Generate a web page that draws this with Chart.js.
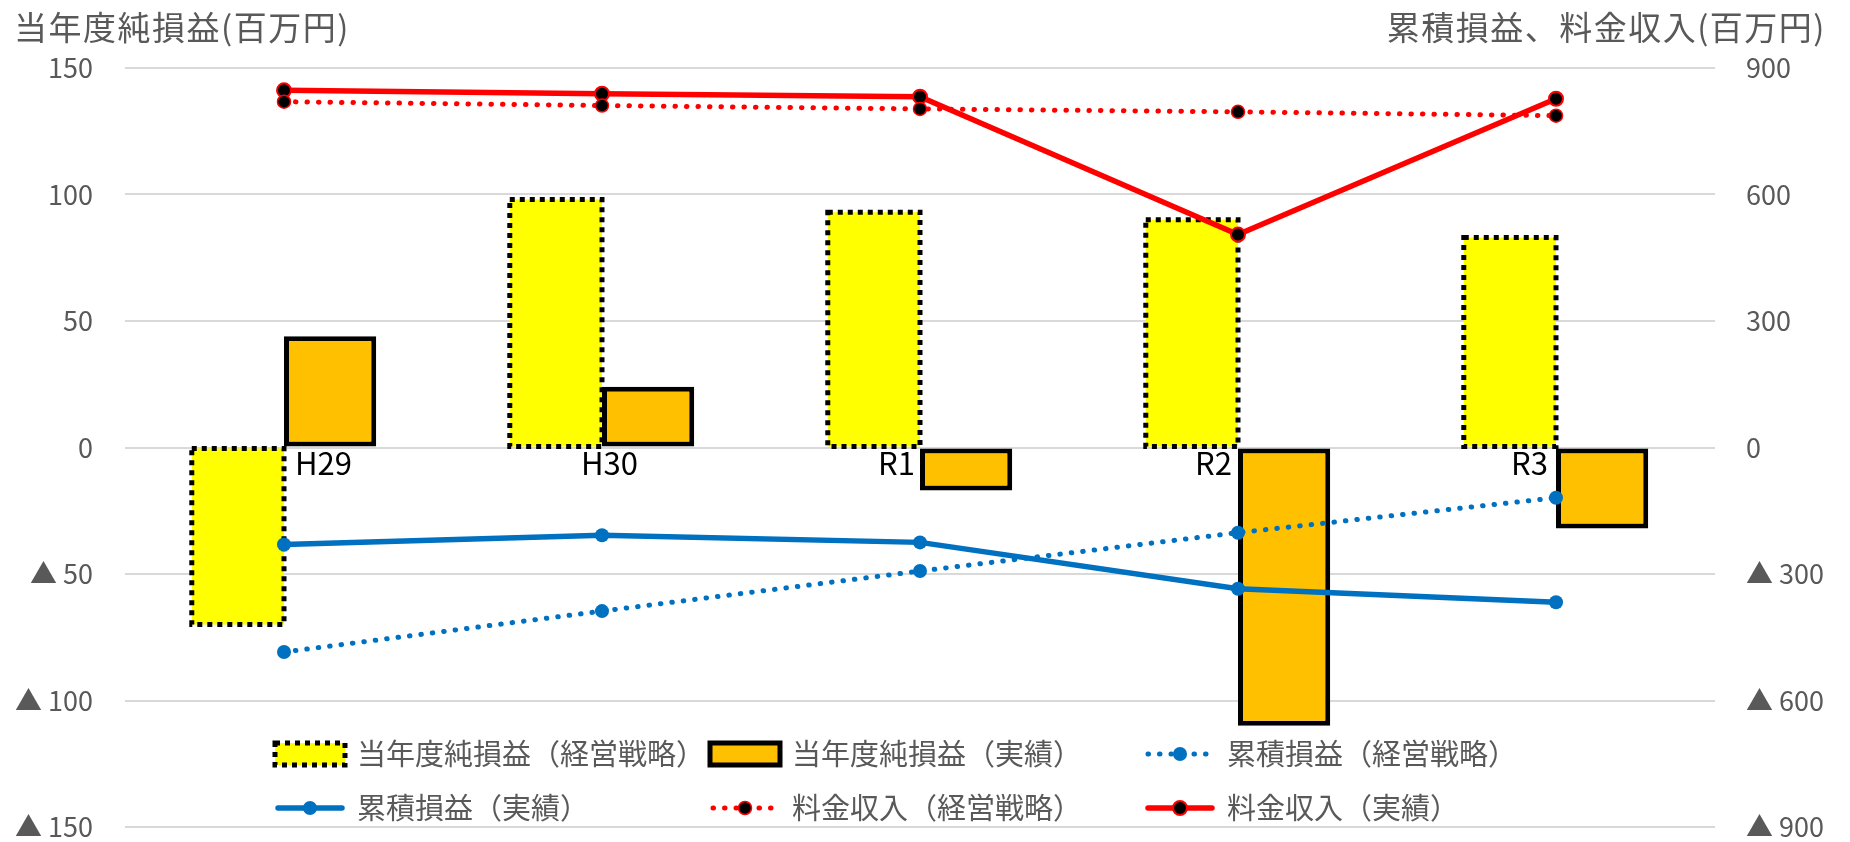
<!DOCTYPE html>
<html lang="ja">
<head>
<meta charset="utf-8">
<title>当年度純損益・累積損益・料金収入</title>
<script src="https://cdn.jsdelivr.net/npm/chart.js@4.4.1/dist/chart.umd.min.js"></script>
<style>
    html, body { margin: 0; padding: 0; background: #ffffff; }
    #wrap { position: relative; width: 1850px; height: 842px; }
</style>
</head>
<body>
<div id="wrap"><canvas id="profitChart"></canvas></div>
<script>
// 年度
var categories = ['H29', 'H30', 'R1', 'R2', 'R3'];

// 当年度純損益（左軸・百万円）
var netPlan = [-70, 98, 93, 90, 83];
var netActual = [44, 24, -17, -110, -32];

// 累積損益・料金収入（右軸・百万円）
var cumPlan = [-485, -388, -293, -202, -119];
var cumActual = [-230, -208, -225, -335, -367];
var revPlan = [820, 811, 803, 796, 787];
var revActual = [847, 839, 832, 505, 827];

// 目盛
var leftTicks = [-150, -100, -50, 0, 50, 100, 150];
var rightTicks = [-900, -600, -300, 0, 300, 600, 900];

var leftTitle = '当年度純損益(百万円)';
var rightTitle = '累積損益、料金収入(百万円)';

var FONT = "'Noto Sans CJK JP', 'Noto Sans', sans-serif";
var GRAY = '#595959';

// 年度ラベルの横ずれ（右端基準、px）
var labelShift = [68, 36, -5, -6, -8];

function tickLabel(v) {
    return v < 0 ? '▲ ' + Math.abs(v) : String(v);
}

// 目盛ラベルの余白が上下のプロット範囲を削らないようにする
function fixAxis(width) {
    return function(axis) {
        axis.width = width;
        axis.paddingTop = 14;
        axis.paddingBottom = 14;
    };
}

/**
 * 経営戦略の棒グラフに点線の枠を描く
 */
var dottedBarBorder = {
    id: 'dottedBarBorder',
    afterDatasetDraw: function(chart, args, opts) {
        if (args.index !== opts.datasetIndex) return;
        var ctx = chart.ctx;
        ctx.save();
        ctx.strokeStyle = opts.color;
        ctx.lineWidth = opts.width;
        ctx.setLineDash(opts.dash);
        args.meta.data.forEach(function(bar) {
            var p = bar.getProps(['x', 'y', 'base', 'width'], true);
            var top = Math.min(p.y, p.base);
            ctx.strokeRect(p.x - p.width / 2, top, p.width, Math.abs(p.base - p.y));
        });
        ctx.restore();
    }
};

/**
 * 年度ラベル（0 の線の下）
 */
var categoryLabels = {
    id: 'categoryLabels',
    afterDatasetsDraw: function(chart) {
        var ctx = chart.ctx;
        var xs = chart.scales.x;
        var y0 = chart.scales.y.getPixelForValue(0);
        ctx.save();
        ctx.fillStyle = '#000000';
        ctx.font = '31px ' + FONT;
        ctx.textAlign = 'right';
        ctx.textBaseline = 'alphabetic';
        chart.data.labels.forEach(function(label, i) {
            ctx.fillText(label, xs.getPixelForValue(i) + labelShift[i], y0 + 27);
        });
        ctx.restore();
    }
};

/**
 * 軸タイトル（左上・右上）
 */
var axisTitles = {
    id: 'axisTitles',
    afterDraw: function(chart) {
        var ctx = chart.ctx;
        ctx.save();
        ctx.fillStyle = GRAY;
        ctx.font = '33px ' + FONT;
        ctx.letterSpacing = '1.5px';
        ctx.textBaseline = 'middle';
        ctx.textAlign = 'left';
        ctx.fillText(leftTitle, 14, 27);
        ctx.textAlign = 'right';
        ctx.fillText(rightTitle, 1826, 27);
        ctx.restore();
    }
};

/**
 * 凡例（3列×2行、プロット内に重ねる）
 */
var gridLegend = {
    id: 'gridLegend',
    afterDraw: function(chart, args, opts) {
        var ctx = chart.ctx;
        chart.data.datasets.forEach(function(ds, i) {
            var x = opts.left + (i % 3) * opts.colWidth;
            var y = opts.top + Math.floor(i / 3) * opts.rowHeight;
            var w = opts.symbolWidth;
            ctx.save();
            if (ds.type === 'bar') {
                ctx.fillStyle = ds.backgroundColor;
                ctx.fillRect(x, y - 11, w, 22);
                ctx.strokeStyle = '#000000';
                ctx.lineWidth = 5;
                if (i === 0) ctx.setLineDash([5, 5]);
                ctx.strokeRect(x, y - 11, w, 22);
            } else {
                ctx.strokeStyle = ds.borderColor;
                ctx.lineWidth = ds.borderWidth;
                ctx.lineCap = 'round';
                ctx.setLineDash(ds.borderDash || []);
                ctx.beginPath();
                ctx.moveTo(x + 3, y);
                ctx.lineTo(x + w - 3, y);
                ctx.stroke();
                ctx.setLineDash([]);
                ctx.beginPath();
                ctx.arc(x + w / 2, y, ds.pointRadius, 0, Math.PI * 2);
                ctx.fillStyle = ds.pointBackgroundColor;
                ctx.fill();
                if (ds.pointBorderWidth) {
                    ctx.lineWidth = ds.pointBorderWidth;
                    ctx.strokeStyle = ds.pointBorderColor;
                    ctx.stroke();
                }
            }
            ctx.fillStyle = GRAY;
            ctx.font = '29px ' + FONT;
            ctx.textBaseline = 'middle';
            ctx.textAlign = 'left';
            ctx.fillText(ds.label, x + w + opts.textGap, y);
            ctx.restore();
        });
    }
};

document.addEventListener('DOMContentLoaded', function() {
    initProfitChart();
});

function initProfitChart() {
    var ctx = document.getElementById('profitChart');
    if (!ctx) return;

    Chart.defaults.font.family = FONT;

    new Chart(ctx, {
        data: {
            labels: categories,
            datasets: [{
                type: 'bar',
                label: '当年度純損益（経営戦略）',
                data: netPlan,
                yAxisID: 'y',
                backgroundColor: '#FFFF00',
                borderWidth: 0,
                categoryPercentage: 0.58,
                barPercentage: 1.0,
                order: 2
            }, {
                type: 'bar',
                label: '当年度純損益（実績）',
                data: netActual,
                yAxisID: 'y',
                backgroundColor: '#FFC000',
                borderColor: '#000000',
                borderWidth: 5,
                borderSkipped: false,
                categoryPercentage: 0.58,
                barPercentage: 1.0,
                order: 2
            }, {
                type: 'line',
                label: '累積損益（経営戦略）',
                data: cumPlan,
                yAxisID: 'y1',
                borderColor: '#0070C0',
                borderWidth: 5,
                borderDash: [0.5, 11],
                borderCapStyle: 'round',
                pointRadius: 7,
                pointBackgroundColor: '#0070C0',
                pointBorderWidth: 0,
                tension: 0,
                fill: false,
                order: 1
            }, {
                type: 'line',
                label: '累積損益（実績）',
                data: cumActual,
                yAxisID: 'y1',
                borderColor: '#0070C0',
                borderWidth: 5.5,
                pointRadius: 7,
                pointBackgroundColor: '#0070C0',
                pointBorderWidth: 0,
                tension: 0,
                fill: false,
                order: 1
            }, {
                type: 'line',
                label: '料金収入（経営戦略）',
                data: revPlan,
                yAxisID: 'y1',
                borderColor: '#FF0000',
                borderWidth: 5,
                borderDash: [0.5, 11],
                borderCapStyle: 'round',
                pointRadius: 6.5,
                pointBackgroundColor: '#000000',
                pointBorderColor: '#FF0000',
                pointBorderWidth: 1.5,
                tension: 0,
                fill: false,
                order: 1
            }, {
                type: 'line',
                label: '料金収入（実績）',
                data: revActual,
                yAxisID: 'y1',
                borderColor: '#FF0000',
                borderWidth: 5.5,
                pointRadius: 7,
                pointBackgroundColor: '#000000',
                pointBorderColor: '#FF0000',
                pointBorderWidth: 2,
                tension: 0,
                fill: false,
                order: 1
            }]
        },
        options: {
            responsive: true,
            maintainAspectRatio: false,
            animation: false,
            layout: {
                padding: { top: 68, bottom: 15, left: 0, right: 0 }
            },
            plugins: {
                legend: { display: false },
                tooltip: { enabled: false },
                dottedBarBorder: {
                    datasetIndex: 0,
                    color: '#000000',
                    width: 5,
                    dash: [5, 5]
                },
                gridLegend: {
                    left: 275,
                    top: 754,
                    colWidth: 435,
                    rowHeight: 54,
                    symbolWidth: 70,
                    textGap: 12
                }
            },
            scales: {
                x: {
                    display: false
                },
                y: {
                    position: 'left',
                    min: -150,
                    max: 150,
                    afterBuildTicks: function(axis) {
                        axis.ticks = leftTicks.map(function(v) { return { value: v }; });
                    },
                    afterFit: fixAxis(125),
                    grid: {
                        color: '#D9D9D9',
                        lineWidth: 2,
                        drawTicks: false
                    },
                    border: { display: false },
                    ticks: {
                        color: GRAY,
                        font: { size: 27, lineHeight: 1.05 },
                        padding: 32,
                        callback: tickLabel
                    }
                },
                y1: {
                    position: 'right',
                    min: -900,
                    max: 900,
                    afterBuildTicks: function(axis) {
                        axis.ticks = rightTicks.map(function(v) { return { value: v }; });
                    },
                    afterFit: fixAxis(135),
                    grid: { display: false, drawTicks: false },
                    border: { display: false },
                    ticks: {
                        color: GRAY,
                        font: { size: 27, lineHeight: 1.05 },
                        padding: 31,
                        callback: tickLabel
                    }
                }
            }
        },
        plugins: [dottedBarBorder, categoryLabels, axisTitles, gridLegend]
    });
}
</script>
</body>
</html>
